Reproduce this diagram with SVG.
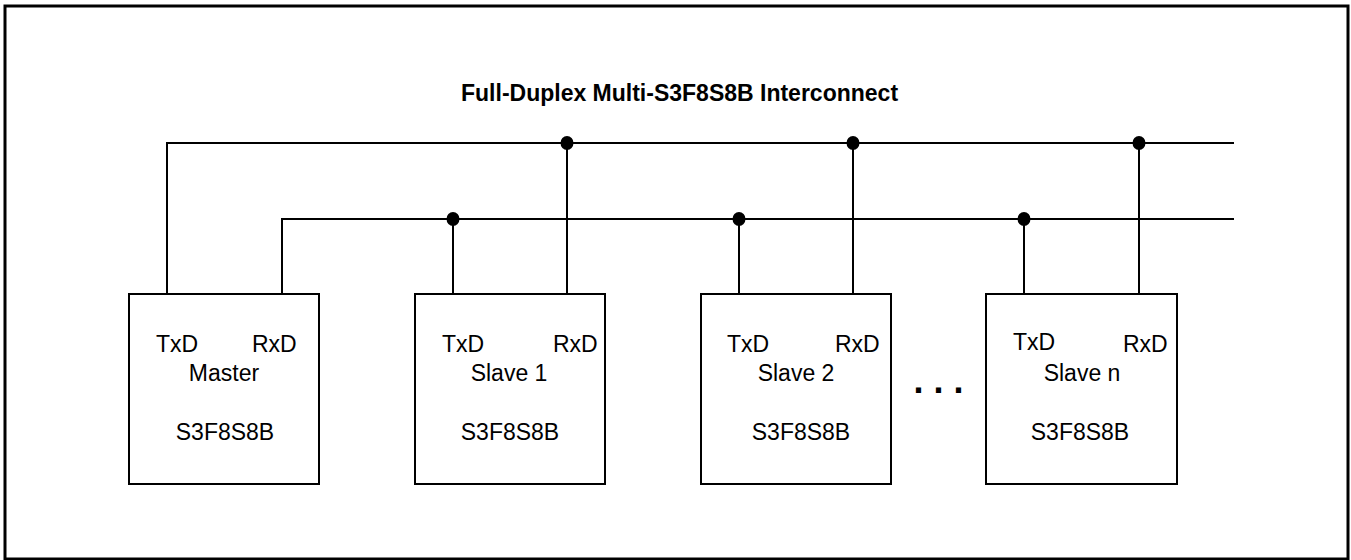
<svg xmlns="http://www.w3.org/2000/svg" width="1351" height="560" viewBox="0 0 1351 560">
<style>
.frame{fill:none;stroke:#000;stroke-width:3}
.box{fill:#fff;stroke:#000;stroke-width:2}
.wire{fill:none;stroke:#000;stroke-width:2}
.dot{fill:#000}
.t{font-family:"Liberation Sans",Arial,sans-serif;font-size:23px;fill:#000}
.title{font-family:"Liberation Sans",Arial,sans-serif;font-size:23px;font-weight:bold;fill:#000}
.mid{text-anchor:middle}
</style>
<rect x="5" y="6" width="1343" height="553" class="frame"/>
<text x="461" y="101" class="title">Full-Duplex Multi-S3F8S8B Interconnect</text>
<g id="connectors">
<path class="wire" d="M167,294 V143 H1234"/>
<path class="wire" d="M282,294 V219 H1234"/>
<path class="wire" d="M453,294 V219 M567,294 V143"/>
<path class="wire" d="M739,294 V219 M853,294 V143"/>
<path class="wire" d="M1024,294 V219 M1139,294 V143"/>
<ellipse class="dot" cx="453" cy="219" rx="6.5" ry="7"/>
<ellipse class="dot" cx="567" cy="143" rx="6.5" ry="7"/>
<ellipse class="dot" cx="739" cy="219" rx="6.5" ry="7"/>
<ellipse class="dot" cx="853" cy="143" rx="6.5" ry="7"/>
<ellipse class="dot" cx="1024" cy="219" rx="6.5" ry="7"/>
<ellipse class="dot" cx="1139" cy="143" rx="6.5" ry="7"/>
</g>
<g id="master">
<rect x="129" y="294" width="190" height="190" class="box"/>
<text x="156" y="352" class="t">TxD</text>
<text x="252" y="352" class="t">RxD</text>
<text x="224" y="381" class="t mid">Master</text>
<text x="225" y="440" class="t mid">S3F8S8B</text>
</g>
<g id="slave1">
<rect x="415" y="294" width="190" height="190" class="box"/>
<text x="442" y="352" class="t">TxD</text>
<text x="553" y="352" class="t">RxD</text>
<text x="509" y="381" class="t mid">Slave 1</text>
<text x="510" y="440" class="t mid">S3F8S8B</text>
</g>
<g id="slave2">
<rect x="701" y="294" width="190" height="190" class="box"/>
<text x="727" y="352" class="t">TxD</text>
<text x="835" y="352" class="t">RxD</text>
<text x="796" y="381" class="t mid">Slave 2</text>
<text x="801" y="440" class="t mid">S3F8S8B</text>
</g>
<g id="ellipsis">
<text x="938.5" y="393" class="title mid" style="font-size:36px">. . .</text>
</g>
<g id="slaven">
<rect x="986" y="294" width="191" height="190" class="box"/>
<text x="1013" y="350" class="t">TxD</text>
<text x="1123" y="352" class="t">RxD</text>
<text x="1082" y="381" class="t mid">Slave n</text>
<text x="1080" y="440" class="t mid">S3F8S8B</text>
</g>
</svg>
